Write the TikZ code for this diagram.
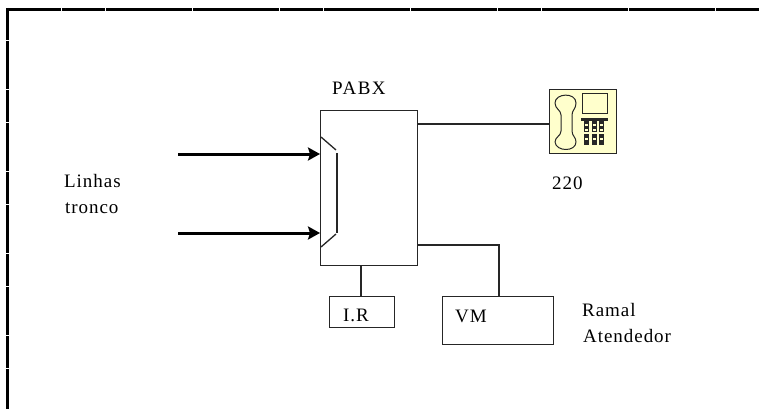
\documentclass[tikz,border=0pt]{standalone}
\usepackage{fontspec}
\setmainfont{Liberation Serif}[LetterSpace=5]
\usetikzlibrary{arrows.meta}
\definecolor{phoneyellow}{RGB}{255,255,204}
\tikzset{
  x=1pt,y=-1pt,
  boxnode/.style={draw=black!85,line width=1.4pt,rectangle,inner sep=0pt,anchor=north west},
  wire/.style={draw=black!85,line width=1.3pt},
  feed/.style={draw=black,line width=3pt,-{Stealth[length=12pt,width=13pt,inset=2pt]}},
  lbl/.style={font=\fontsize{19}{22}\selectfont,inner sep=0pt,anchor=base west,text=black},
  frameline/.style={draw=black,line width=3.4pt},
  thin part/.style={draw=black!85,line width=1.3pt}
}
\begin{document}
\begin{tikzpicture}
\useasboundingbox (0,0) rectangle (759,409);
\draw[frameline,dash pattern=on 43pt off 0.6pt] (759,9.5) -- (7.5,9.5);
\draw[frameline,dash pattern=on 16pt off 0.4pt] (7.5,7.8) -- (7.5,409);
\node[boxnode,minimum width=97pt,minimum height=155pt] (pabx) at (320,110) {};
\node[boxnode,minimum width=65pt,minimum height=31pt] (ir) at (329,296) {};
\node[boxnode,minimum width=111pt,minimum height=48pt] (vm) at (442,296) {};
\node[boxnode,fill=phoneyellow,minimum width=67pt,minimum height=64pt] (phone) at (549,89) {};
% switch
\draw[thin part] (321,137) -- (336,150);
\draw[thin part] (337,153) -- (337,233);
\draw[thin part] (336,234) -- (321,247);
% feeds
\coordinate (a1) at (178,154);
\coordinate (a2) at (178,233);
\draw[feed] (a1) -- (a1-|pabx.west);
\draw[feed] (a2) -- (a2-|pabx.west);
% wires
\coordinate (w1) at (417,124);
\coordinate (w2) at (417,245);
\draw[wire] (w1) -- (w1-|phone.west);
\draw[wire] (w2) -| (499,296);
\draw[wire] (361,265) -- (361,296);
% phone glyph
\draw[line width=1pt,black!85,line join=round]
  (555,103) .. controls (555,93) and (576,92) .. (576,103)
  .. controls (576,109) and (572,110) .. (572,115)
  -- (572,131)
  .. controls (572,136) and (576,137) .. (576,142)
  .. controls (576,152) and (556,152) .. (555,142)
  .. controls (555,137) and (561,136) .. (561,131)
  -- (561,115)
  .. controls (561,110) and (555,109) .. (555,103) -- cycle;
\draw[line width=1pt,black!85] (582,94) rectangle (607,113);
\fill[black!85] (581,118) rectangle (608,121);
\foreach \xx in {584,591.5,599}{
  \fill[black!85] (\xx,121) rectangle (\xx+5,132);
  \fill[black!85] (\xx,134) rectangle (\xx+5,145);
  \fill[phoneyellow] (\xx+1,124) rectangle (\xx+4,126);
  \fill[phoneyellow] (\xx+1,129) rectangle (\xx+4,131);
  \fill[phoneyellow] (\xx+1,138) rectangle (\xx+4,140);
}
% labels
\node[lbl] (tpabx) at (332,95) {\addfontfeature{LetterSpace=8}PABX};
\node[lbl] (t220) at (552,189) {220};
\node[lbl] (tl1) at (64,187) {Linhas};
\node[lbl] (tl2) at (65,213) {tronco};
\node[lbl] (tir) at (343,321) {I.R};
\node[lbl] (tvm) at (455,322) {VM};
\node[lbl] (tr1) at (582,316) {Ramal};
\node[lbl] (tr2) at (583,342) {Atendedor};
\end{tikzpicture}
\end{document}
